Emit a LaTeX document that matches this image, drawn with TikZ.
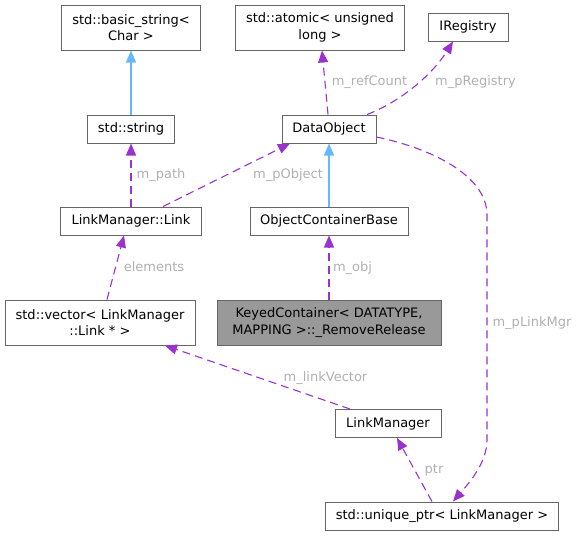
\documentclass[tikz,border=0pt]{standalone}
\usepackage{fontspec}
\setmainfont{DejaVu Sans}
\usetikzlibrary{arrows.meta,calc}
\definecolor{edgepurple}{HTML}{9A32CD}
\definecolor{edgeblue}{HTML}{63B8FF}
\definecolor{lblgray}{HTML}{B0B0B0}
\definecolor{boxborder}{HTML}{666666}
\definecolor{keyedfill}{HTML}{999999}
\begin{document}
\begin{tikzpicture}[x=1pt,y=-1pt,
  font=\fontsize{13pt}{16.5pt}\selectfont,
  classbox/.style={draw=boxborder,line width=1pt,fill=white,inner sep=0pt,align=center},
  keyedbox/.style={classbox,fill=keyedfill},
  usage/.style={draw=edgepurple,line width=1.1pt,dash pattern=on 8pt off 5pt,
    -{Triangle[length=12pt,width=10pt,fill=edgepurple]}},
  inherit/.style={draw=edgeblue,line width=1.1pt,
    -{Triangle[length=12pt,width=10pt,fill=edgeblue]}},
  elabel/.style={text=lblgray,inner sep=0pt}]
\useasboundingbox (0,0) rectangle (577,536);
\node[classbox,minimum width=139pt,minimum height=45pt] (bs) at (131,27.5) {std::basic\_string<\\Char >};
\node[classbox,minimum width=87pt,minimum height=28pt] (str) at (131,129) {std::string};
\node[classbox,minimum width=141pt,minimum height=28pt] (link) at (131,221) {LinkManager::Link};
\node[classbox,minimum width=169pt,minimum height=45pt] (atom) at (320,27.5) {std::atomic< unsigned\\long >};
\node[classbox,minimum width=80pt,minimum height=28pt] (ireg) at (468,27) {IRegistry};
\node[classbox,minimum width=94pt,minimum height=28pt] (dobj) at (329,129) {DataObject};
\node[classbox,minimum width=158pt,minimum height=28pt] (ocb) at (329,221) {ObjectContainerBase};
\node[classbox,minimum width=190pt,minimum height=45pt] (vec) at (100,322.5) {std::vector< LinkManager\\::Link * >};
\node[keyedbox,minimum width=224pt,minimum height=45pt] (keyed) at (329,322.5) {KeyedContainer< DATATYPE,\\MAPPING >::\_RemoveRelease};
\node[classbox,minimum width=106pt,minimum height=28pt] (lm) at (388,423.5) {LinkManager};
\node[classbox,minimum width=233pt,minimum height=28pt] (up) at (442,516) {std::unique\_ptr< LinkManager >};

% inheritance
\draw[inherit] (str.north) -- (bs.south);
\draw[inherit] (ocb.north) -- (dobj.south);
% usage
\draw[usage] (link.north) -- (str.south);
\draw[usage] ($(link.north)+(32,0)$) -- ($(dobj.south)+(-39,0)$);
\draw[usage] ($(dobj.north)+(-1,0)$) -- ($(atom.south)+(2,0)$);
\draw[usage] ($(dobj.north)+(38,0)$) .. controls (400,102) and (432,75) .. ($(ireg.south)+(-15,0)$);
\draw[usage] ($(vec.north)+(7,0)$) -- ($(link.south)+(-7,0)$);
\draw[usage] (keyed.north) -- (ocb.south);
\draw[usage] ($(lm.north)+(-38,0)$) -- ($(vec.south)+(65,0)$);
\draw[usage] ($(up.north)+(-10,0)$) -- ($(lm.south)+(9,0)$);
\draw[usage] ($(dobj.east)+(0,8)$) .. controls (430,148) and (487,175) .. (487,215)
   -- (487,440) .. controls (487,462) and (470,482) .. ($(up.north)+(11,0)$);

% labels
\node[elabel] (lpath) at (161,175) {m\_path};
\node[elabel] (lpobj) at (288,175) {m\_pObject};
\node[elabel] (lref) at (369.5,82) {m\_refCount};
\node[elabel] (lreg) at (475.5,82) {m\_pRegistry};
\node[elabel] (lel) at (154,267) {elements};
\node[elabel] (lobj) at (352.5,268) {m\_obj};
\node[elabel] (lmgr) at (532,323) {m\_pLinkMgr};
\node[elabel] (lvec) at (325.5,378) {m\_linkVector};
\node[elabel] (lptr) at (434,470) {ptr};
\end{tikzpicture}
\end{document}
